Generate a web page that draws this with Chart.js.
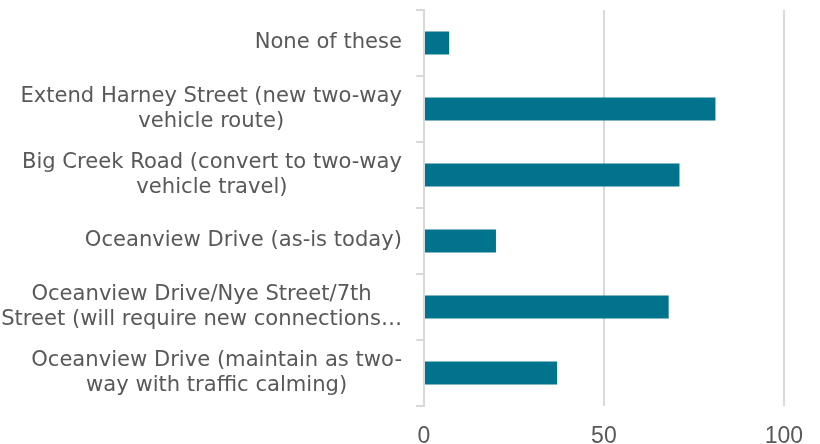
<!DOCTYPE html>
<html>
<head>
<meta charset="utf-8">
<script src="https://cdn.jsdelivr.net/npm/chart.js@4.4.1/dist/chart.umd.min.js"></script>
<style>
  html, body { margin: 0; padding: 0; background: #fff; }
  #wrap { width: 820px; height: 444px; position: relative; }
</style>
</head>
<body>
<div id="wrap"><canvas id="chart"></canvas></div>
<script>
// Category labels, one array of lines per bar (top to bottom)
const categories = [
    ['None of these'],
    ['Extend Harney Street (new two-way', 'vehicle route)'],
    ['Big Creek Road (convert to two-way', 'vehicle travel)'],
    ['Oceanview Drive (as-is today)'],
    ['Oceanview Drive/Nye Street/7th', 'Street (will require new connections\u2026'],
    ['Oceanview Drive (maintain as two-', 'way with traffic calming)']
];
// Response counts
const values = [7, 81, 71, 20, 68, 37];
// Value axis ticks
const xTicks = [0, 50, 100];

const textColor = '#595959';
const gridColor = '#d9d9d9';
const barColor = '#02738c';
const labelFont = { family: 'DejaVu Sans', size: 21.1 };
const labelLineHeight = 25;

// Draw category labels right-aligned as a block, lines centered within it (like Excel)
const centeredLabels = {
    id: 'centeredLabels',
    afterDraw(chart) {
        const scale = chart.scales.y;
        const ctx = chart.ctx;
        const rightX = scale.right - 22;
        ctx.save();
        ctx.font = `${labelFont.size}px "${labelFont.family}"`;
        ctx.fillStyle = textColor;
        ctx.textAlign = 'center';
        ctx.textBaseline = 'middle';
        categories.forEach((lines, i) => {
            const y = scale.getPixelForTick(i);
            const maxW = Math.max(...lines.map(l => ctx.measureText(l).width));
            const cx = rightX - maxW / 2;
            const startY = y - (lines.length - 1) * labelLineHeight / 2;
            lines.forEach((line, j) => {
                ctx.fillText(line, cx, startY + j * labelLineHeight);
            });
        });
        ctx.restore();
    }
};

const ctx = document.getElementById('chart').getContext('2d');
new Chart(ctx, {
    type: 'bar',
    data: {
        labels: categories.map(lines => lines.join(' ')),
        datasets: [{
            data: values,
            backgroundColor: barColor,
            barPercentage: 0.35,
            categoryPercentage: 1
        }]
    },
    options: {
        indexAxis: 'y',
        responsive: true,
        maintainAspectRatio: false,
        animation: false,
        layout: { padding: { top: 10, right: 36, left: 0, bottom: 0 } },
        plugins: {
            legend: { display: false },
            tooltip: { enabled: false }
        },
        scales: {
            x: {
                min: 0,
                max: 100,
                afterBuildTicks(scale) {
                    scale.ticks = xTicks.map(v => ({ value: v }));
                },
                afterFit(scale) { scale.height = 38; },
                grid: { color: gridColor, lineWidth: 2, drawTicks: false },
                border: { display: false },
                ticks: {
                    color: textColor,
                    font: { family: 'Liberation Sans', size: 23 },
                    padding: 17
                }
            },
            y: {
                afterFit(scale) {
                    scale.width = 424;
                    scale.paddingTop = 0;
                    scale.paddingBottom = 0;
                },
                grid: {
                    offset: true,
                    drawOnChartArea: false,
                    color: gridColor,
                    lineWidth: 2,
                    tickLength: 8
                },
                border: { color: gridColor, width: 2 },
                ticks: {
                    // real labels are drawn by the centeredLabels plugin
                    callback: () => '',
                    padding: 14
                }
            }
        }
    },
    plugins: [centeredLabels]
});
</script>
</body>
</html>
